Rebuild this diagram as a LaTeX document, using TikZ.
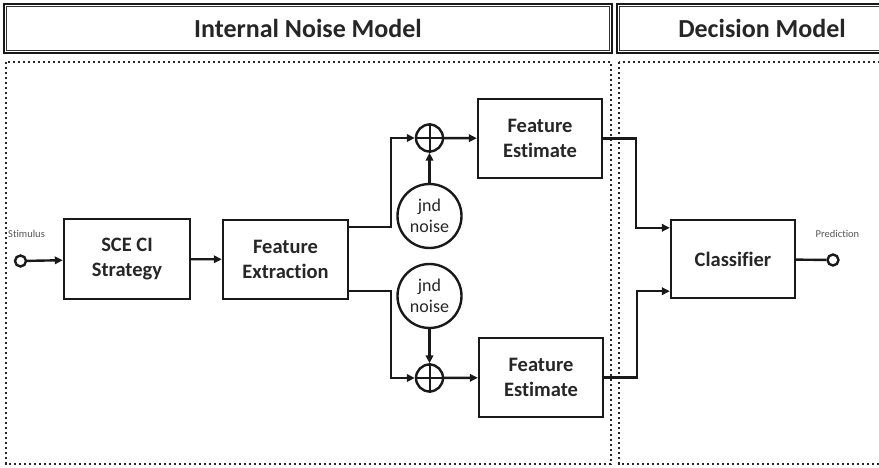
\documentclass[tikz,border=0pt]{standalone}
\usepackage{fontspec}
\setmainfont{Carlito}[Ligatures=NoCommon]
\usetikzlibrary{arrows.meta}
\definecolor{txt}{HTML}{262626}
\definecolor{lbl}{HTML}{555555}
\tikzset{
  blk/.style={draw=black!90, line width=2.4pt, rectangle, minimum width=124pt, minimum height=79pt, align=center, font=\fontsize{20.5}{25}\selectfont\bfseries, text=txt, inner sep=0pt},
  noisec/.style={draw=black!90, line width=2.4pt, circle, minimum size=64pt, inner sep=0pt, align=center, font=\fontsize{18}{21.5}\selectfont, text=txt},
  sumc/.style={draw=black!90, line width=2.4pt, circle, minimum size=27pt, inner sep=0pt},
  port/.style={draw=black!90, line width=2.4pt, circle, minimum size=11pt, inner sep=0pt, fill=white},
  conn/.style={draw=black!90, line width=2.4pt, -{Triangle[length=8pt,width=7.5pt]}},
  plain/.style={draw=black!90, line width=2.4pt},
  hdr/.style={draw=black!90, line width=2.6pt, rectangle, inner sep=0pt, minimum height=49pt, font=\fontsize{26}{30}\selectfont\bfseries, text=txt},
  dotbox/.style={draw=black!85, line width=2.6pt, dash pattern=on 2.4pt off 2.6pt},
  smalllbl/.style={font=\fontsize{10.5}{12}\selectfont, text=lbl, inner sep=0pt}
}
\begin{document}
\begin{tikzpicture}[x=1pt,y=-1pt]
\useasboundingbox (0,0) rectangle (879,468);
\clip (0,0) rectangle (879,468);
% headers
\node[hdr, minimum width=608pt] (hdrA) at (308,28.5) {\raisebox{-2pt}{Internal Noise Model}};
\draw[line width=0.8pt, black!80] ([shift={(3.6pt,-3.6pt)}]hdrA.north west) rectangle ([shift={(-3.6pt,3.6pt)}]hdrA.south east);
\node[hdr, minimum width=290pt] (hdrB) at (762,28.5) {\raisebox{-2pt}{Decision Model}};
\draw[line width=0.8pt, black!80] ([shift={(3.6pt,-3.6pt)}]hdrB.north west) rectangle ([shift={(-3.6pt,3.6pt)}]hdrB.south east);
% dotted panels
\draw[dotbox] (6,62) rectangle (611,464);
\draw[dotbox] (619,62) rectangle (900,464);
% nodes
\node[port] (stim) at (20.5,261) {};
\node[smalllbl, anchor=base west] (stimlbl) at (8,237) {Stimulus};
\node[blk, minimum width=126pt, minimum height=80pt] (sce) at (127,259) {SCE CI\\Strategy};
\node[blk, minimum width=125pt] (fx) at (285.5,259.5) {Feature\\Extraction};
\node[sumc] (sum1) at (429.5,138) {};
\node[noisec] (jnd1) at (429.5,216) {jnd\\noise};
\node[blk] (fe1) at (540,138.5) {Feature\\Estimate};
\node[noisec] (jnd2) at (429.5,296) {jnd\\noise};
\node[sumc] (sum2) at (429.5,378) {};
\node[blk] (fe2) at (541,377.5) {Feature\\Estimate};
\node[blk, minimum height=78pt] (cl) at (733,259) {Classifier};
\node[port] (pred) at (833,260) {};
\node[smalllbl, anchor=base] (predlbl) at (837.5,237) {Prediction};
% sum crosses
\draw[plain, line width=2pt] (sum1.north) -- (sum1.south) (sum1.west) -- (sum1.east);
\draw[plain, line width=2pt] (sum2.north) -- (sum2.south) (sum2.west) -- (sum2.east);
% connectors
\draw[conn] (stim) -- (sce);
\draw[conn] (sce) -- (fx);
\draw[conn] ([yshift=-8pt]fx.north east) -- ++(42,0) |- (sum1.west);
\draw[conn] ([yshift=9pt]fx.south east) -- ++(42,0) |- (sum2.west);
\draw[conn] (jnd1) -- (sum1);
\draw[conn] (jnd2) -- (sum2);
\draw[conn] (sum1) -- (fe1);
\draw[conn] (sum2) -- (fe2);
\draw[conn] (fe1.east) -- ++(33,0) |- ([yshift=-9pt]cl.north west);
\draw[conn] (fe2.east) -- ++(33,0) |- ([yshift=8pt]cl.south west);
\draw[plain] (cl) -- (pred);
\end{tikzpicture}
\end{document}
